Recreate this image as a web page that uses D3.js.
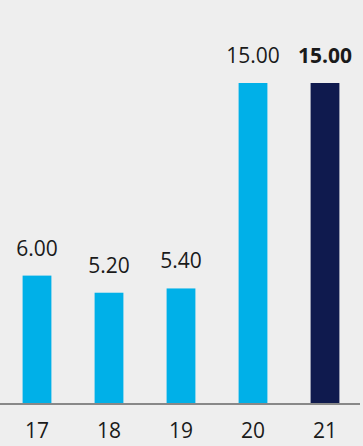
<!DOCTYPE html>
<html><head><meta charset="utf-8">
<script src="https://cdn.jsdelivr.net/npm/d3@7"></script>
<style>html,body{margin:0;padding:0;background:#eeeeee;}svg{display:block;}</style>
</head><body>
<svg id="c" width="363" height="446"></svg>
<script>
const categories = ["17","18","19","20","21"];
const values = [6.00, 5.20, 5.40, 15.00, 15.00];
const highlight = [false, false, false, false, true];

const svg = d3.select("#c");
const W = 363, H = 446;
svg.append("rect").attr("width", W).attr("height", H).attr("fill", "#eeeeee");

const x = d3.scaleBand().domain(categories).range([1, 361]).paddingInner(0.6).paddingOuter(0.3);
const y = d3.scaleLinear().domain([0, 15]).range([404, 83]);

const data = categories.map((c, i) => ({c, v: values[i], h: highlight[i]}));

svg.selectAll("rect.bar").data(data).enter().append("rect")
  .attr("class", "bar")
  .attr("x", d => x(d.c))
  .attr("width", x.bandwidth())
  .attr("y", d => y(d.v))
  .attr("height", d => y(0) - y(d.v))
  .attr("fill", d => d.h ? "#0f1a4e" : "#00b0e8");

svg.selectAll("text.val").data(data).enter().append("text")
  .attr("class", "val")
  .attr("x", d => x(d.c) + x.bandwidth() / 2)
  .attr("y", d => y(d.v) - 20)
  .attr("text-anchor", "middle")
  .attr("font-family", "'Open Sans', 'Noto Sans', sans-serif")
  .attr("font-size", 21)
  .attr("font-weight", d => d.h ? "bold" : "normal")
  .attr("fill", "#1a1a1a")
  .text(d => d.v.toFixed(2));

const axis = d3.axisBottom(x).tickSize(0).tickPadding(19);
const g = svg.append("g").attr("transform", `translate(0,${y(0)})`).call(axis);
g.select(".domain").attr("d", `M0,0H360`).attr("stroke", "#888888").attr("stroke-width", 2);
g.selectAll("text")
  .attr("font-family", "'Open Sans', 'Noto Sans', sans-serif")
  .attr("font-size", 21)
  .attr("fill", "#1a1a1a");
</script>
</body></html>
